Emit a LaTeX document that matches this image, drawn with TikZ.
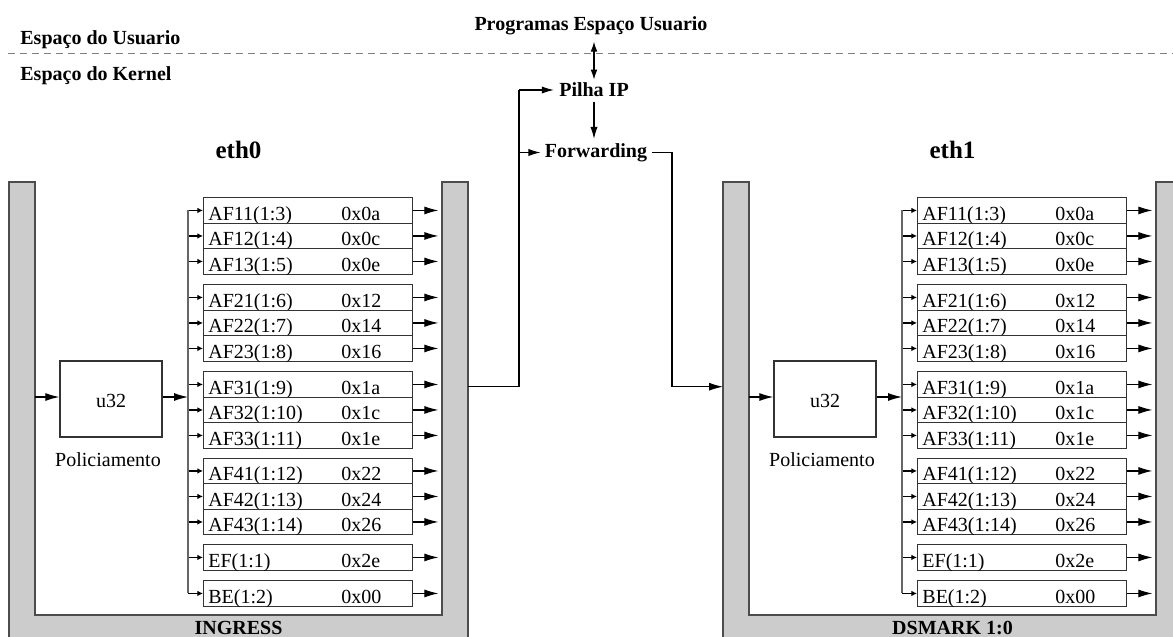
\documentclass[tikz,border=0pt]{standalone}
\usepackage{fontspec}
\setmainfont{Liberation Serif}
\usetikzlibrary{arrows.meta}
\definecolor{wallgray}{HTML}{CCCCCC}
\begin{document}
\begin{tikzpicture}[x=0.5pt,y=-0.5pt,
  font=\fontsize{10}{12}\selectfont,
  wallshape/.style={fill=wallgray,draw=black!70,line width=0.7pt},
  rowbox/.style={draw=black!80,line width=0.7pt,minimum width=104.5pt,minimum height=12.75pt,inner sep=0pt,anchor=north west},
  rowtext/.style={anchor=base west,inner sep=0pt},
  lbl/.style={font=\bfseries\fontsize{10}{12}\selectfont},
  ethlbl/.style={font=\bfseries\fontsize{12.5}{14}\selectfont},
  wire/.style={draw=black,line width=0.55pt},
  bigarrow/.style={wire,-{Latex[length=7pt,width=4pt]}},
  midarrow/.style={wire,-{Latex[length=6pt,width=3.6pt]}},
  smallarrow/.style={wire,-{Latex[length=2.8pt,width=2.8pt]}},
  dblarrow/.style={wire,{Latex[length=5pt,width=3.4pt]}-{Latex[length=5pt,width=3.4pt]}},
  sepline/.style={draw=black!50,line width=0.75pt,dash pattern=on 3.5pt off 2.5pt}]
\useasboundingbox (0,0) rectangle (1173,637);
\clip (0,0) rectangle (1173,637);

% user / kernel separation
\coordinate (sepL) at (8,53.5);
\coordinate (sepR) at (1173,53.5);
\draw[sepline] (sepL) -- (sepR);
\node[lbl,anchor=west,inner sep=0pt] (usr) at (20,39.5) {Espaço do Usuario};
\node[lbl,anchor=west,inner sep=0pt] (krn) at (20,75.5) {Espaço do Kernel};

% IP stack
\node[lbl] (prog) at (591,25.5) {Programas Espaço Usuario};
\node[lbl,inner sep=2.5pt] (pilha) at (594,90) {Pilha IP};
\node[lbl,inner sep=2pt] (fwd) at (596,152.5) {Forwarding};
\draw[dblarrow] (prog.south -| pilha.north) -- ([yshift=-1pt]pilha.north);
\draw[midarrow] (pilha.south) -- (fwd.north -| pilha.south);

% two DSMARK containers
\foreach \p/\o/\t/\e in {L/0/INGRESS/eth0, R/714/DSMARK 1:0/eth1}{
  \begin{scope}[xshift=\o*0.5pt]
    \path[wallshape] (9,182) -- (35,182) -- (35,615) -- (442,615) -- (442,182)
      -- (468,182) -- (468,660) -- (9,660) -- cycle;
    \node[lbl] (\p lab) at (238.5,628) {\t};
    \node[ethlbl] (\p eth) at (238.5,150) {\e};
    \node[draw=black!80,line width=0.7pt,minimum width=51pt,minimum height=38pt,inner sep=0pt] (\p u) at (111,399) {};
    \node[inner sep=0pt] (\p ut) at (111,400.5) {u32};
    \node[inner sep=0pt] (\p pol) at (108,460) {Policiamento};
    \coordinate (\p win) at (35,397);
    \coordinate (\p bus) at (188,397);
    \coordinate (\p wout) at (468,386.7);
    \coordinate (\p wouter) at (9,386.7);
    \draw[bigarrow] (\p win) -- (\p u.west |- \p win);
    \draw[bigarrow] (\p u.east |- \p bus) -- (\p bus);
    \foreach \n/\h/\y [count=\i] in {
        AF11(1:3)/0x0a/197, AF12(1:4)/0x0c/222.5, AF13(1:5)/0x0e/248,
        AF21(1:6)/0x12/284, AF22(1:7)/0x14/309.5, AF23(1:8)/0x16/335,
        AF31(1:9)/0x1a/371, AF32(1:10)/0x1c/396.5, AF33(1:11)/0x1e/422,
        AF41(1:12)/0x22/457.5, AF42(1:13)/0x24/483, AF43(1:14)/0x26/508.5,
        EF(1:1)/0x2e/544, BE(1:2)/0x00/580}{
      \node[rowbox] (\p r\i) at (203,\y) {};
      \node[rowtext] (\p n\i) at ([xshift=2.5pt,yshift=-5pt]\p r\i.west) {\n};
      \node[rowtext] (\p h\i) at ([xshift=69pt,yshift=-5pt]\p r\i.west) {\h};
      \coordinate (\p o\i) at ([xshift=12.5pt]\p r\i.east);
      \draw[bigarrow] (\p r\i.east) -- (\p o\i);
      \draw[smallarrow] (\p r\i.west -| \p bus) -- (\p r\i.west);
    }
    \draw[wire,draw=black!60] (\p r1.west -| \p bus) -- (\p r14.west -| \p bus);
  \end{scope}
}

% connections between the two containers and the IP stack
\coordinate (up) at (519,90);
\coordinate (upf) at (519,152.5);
\coordinate (down) at (672,386.7);
\draw[wire] (Lwout) -| (up);
\draw[midarrow] (up) -- (pilha.west);
\draw[midarrow] (upf) -- (fwd.west);
\draw[wire] (fwd.east) -| (down);
\draw[bigarrow] (down) -- (Rwouter);
\end{tikzpicture}
\end{document}
